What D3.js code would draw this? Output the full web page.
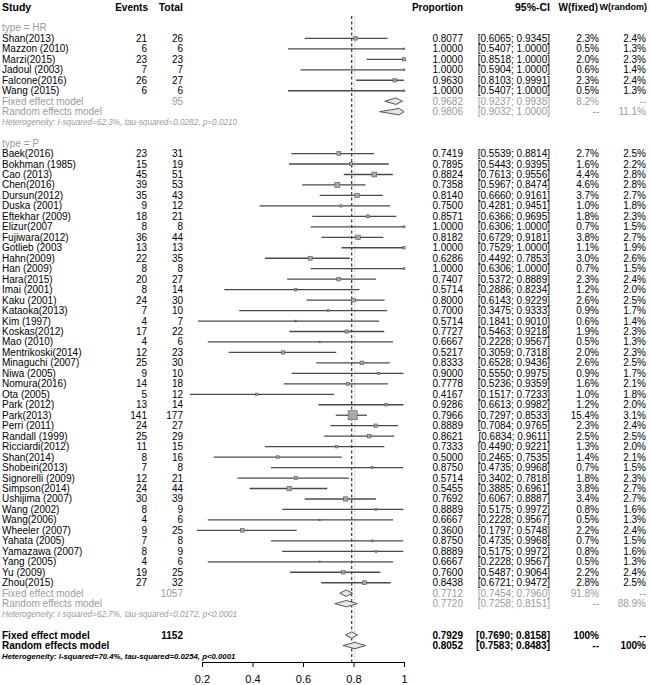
<!DOCTYPE html>
<html>
<head>
<meta charset="utf-8">
<script src="https://cdn.jsdelivr.net/npm/d3@7"></script>
<style>
  body { margin: 0; background: #fff; }
  svg text { font-family: "Liberation Sans", Arial, sans-serif; }
</style>
</head>
<body>
<svg id="forest" width="650" height="685"></svg>
<script>
// subgroup type = HR
var hrStudy = ["Shan(2013)", "Mazzon (2010)", "Marzi(2015)", "Jadoul (2003)", "Falcone(2016)", "Wang (2015)"];
var hrEvents = [21, 6, 23, 7, 26, 6];
var hrTotal = [26, 6, 23, 7, 27, 6];
var hrProp = [0.8077, 1.0000, 1.0000, 1.0000, 0.9630, 1.0000];
var hrLower = [0.6065, 0.5407, 0.8518, 0.5904, 0.8103, 0.5407];
var hrUpper = [0.9345, 1.0000, 1.0000, 1.0000, 0.9991, 1.0000];
var hrWFixed = [2.3, 0.5, 2.0, 0.6, 2.3, 0.5];
var hrWRandom = [2.4, 1.3, 2.3, 1.4, 2.4, 1.3];

// subgroup type = P
var pStudy = ["Baek(2016)", "Bokhman (1985)", "Cao (2013)", "Chen(2016)", "Dursun(2012)", "Duska (2001)",
  "Eftekhar (2009)", "Elizur(2007", "Fujiwara(2012)", "Gotlieb (2003", "Hahn(2009)", "Han (2009)",
  "Hara(2015)", "Imai (2001)", "Kaku (2001)", "Kataoka(2013)", "Kim (1997)", "Koskas(2012)", "Mao (2010)",
  "Mentrikoski(2014)", "Minaguchi (2007)", "Niwa (2005)", "Nomura(2016)", "Ota (2005)", "Park (2012)",
  "Park(2013)", "Perri (2011)", "Randall (1999)", "Ricciardi(2012)", "Shan(2014)", "Shobeiri(2013)",
  "Signorelli (2009)", "Simpson(2014)", "Ushijima (2007)", "Wang (2002)", "Wang(2006)", "Wheeler (2007)",
  "Yahata (2005)", "Yamazawa (2007)", "Yang (2005)", "Yu (2009)", "Zhou(2015)"];
var pEvents = [23, 15, 45, 39, 35, 9, 18, 8, 36, 13, 22, 8, 20, 8, 24, 7, 4, 17, 4, 12, 25, 9, 14, 5, 13,
  141, 24, 25, 11, 8, 7, 12, 24, 30, 8, 4, 9, 7, 8, 4, 19, 27];
var pTotal = [31, 19, 51, 53, 43, 12, 21, 8, 44, 13, 35, 8, 27, 14, 30, 10, 7, 22, 6, 23, 30, 10, 18, 12, 14,
  177, 27, 29, 15, 16, 8, 21, 44, 39, 9, 6, 25, 8, 9, 6, 25, 32];
var pProp = [0.7419, 0.7895, 0.8824, 0.7358, 0.8140, 0.7500, 0.8571, 1.0000, 0.8182, 1.0000, 0.6286, 1.0000,
  0.7407, 0.5714, 0.8000, 0.7000, 0.5714, 0.7727, 0.6667, 0.5217, 0.8333, 0.9000, 0.7778, 0.4167, 0.9286,
  0.7966, 0.8889, 0.8621, 0.7333, 0.5000, 0.8750, 0.5714, 0.5455, 0.7692, 0.8889, 0.6667, 0.3600,
  0.8750, 0.8889, 0.6667, 0.7600, 0.8438];
var pLower = [0.5539, 0.5443, 0.7613, 0.5967, 0.6660, 0.4281, 0.6366, 0.6306, 0.6729, 0.7529, 0.4492, 0.6306,
  0.5372, 0.2886, 0.6143, 0.3475, 0.1841, 0.5463, 0.2228, 0.3059, 0.6528, 0.5550, 0.5236, 0.1517, 0.6613,
  0.7297, 0.7084, 0.6834, 0.4490, 0.2465, 0.4735, 0.3402, 0.3885, 0.6067, 0.5175, 0.2228, 0.1797,
  0.4735, 0.5175, 0.2228, 0.5487, 0.6721];
var pUpper = [0.8814, 0.9395, 0.9556, 0.8474, 0.9161, 0.9451, 0.9695, 1.0000, 0.9181, 1.0000, 0.7853, 1.0000,
  0.8889, 0.8234, 0.9229, 0.9333, 0.9010, 0.9218, 0.9567, 0.7318, 0.9436, 0.9975, 0.9359, 0.7233, 0.9982,
  0.8533, 0.9765, 0.9611, 0.9221, 0.7535, 0.9968, 0.7818, 0.6961, 0.8887, 0.9972, 0.9567, 0.5748,
  0.9968, 0.9972, 0.9567, 0.9064, 0.9472];
var pWFixed = [2.7, 1.6, 4.4, 4.6, 3.7, 1.0, 1.8, 0.7, 3.8, 1.1, 3.0, 0.7, 2.3, 1.2, 2.6, 0.9, 0.6, 1.9, 0.5,
  2.0, 2.6, 0.9, 1.6, 1.0, 1.2, 15.4, 2.3, 2.5, 1.3, 1.4, 0.7, 1.8, 3.8, 3.4, 0.8, 0.5, 2.2, 0.7, 0.8, 0.5, 2.2, 2.8];
var pWRandom = [2.5, 2.2, 2.8, 2.8, 2.7, 1.8, 2.3, 1.5, 2.7, 1.9, 2.6, 1.5, 2.4, 2.0, 2.5, 1.7, 1.4, 2.3, 1.3,
  2.3, 2.5, 1.7, 2.1, 1.8, 2.0, 3.1, 2.4, 2.5, 2.0, 2.1, 1.5, 2.3, 2.7, 2.7, 1.6, 1.3, 2.4, 1.5, 1.6, 1.3, 2.4, 2.5];

// pooled estimates: HR fixed, HR random, P fixed, P random, overall fixed, overall random
var poolLabel = ["Fixed effect model", "Random effects model", "Fixed effect model", "Random effects model",
  "Fixed effect model", "Random effects model"];
var poolTotal = [95, null, 1057, null, 1152, null];
var poolProp = [0.9682, 0.9806, 0.7712, 0.7720, 0.7929, 0.8052];
var poolLower = [0.9237, 0.9032, 0.7454, 0.7258, 0.7690, 0.7583];
var poolUpper = [0.9938, 1.0000, 0.7960, 0.8151, 0.8158, 0.8483];
var poolWFixed = ["8.2%", "--", "91.8%", "--", "100%", "--"];
var poolWRandom = ["--", "11.1%", "--", "88.9%", "--", "100%"];

var hetText = [
  "Heterogeneity: I-squared=62.3%, tau-squared=0.0282, p=0.0210",
  "Heterogeneity: I-squared=62.7%, tau-squared=0.0172, p<0.0001",
  "Heterogeneity: I-squared=70.4%, tau-squared=0.0254, p<0.0001"];

var axisTicks = [0.2, 0.4, 0.6, 0.8, 1];

var svg = d3.select("#forest");
var grey = "#9a9a9a";
var fs = 10; // row font size

// row positions (63 text rows)
var yRow = d3.scaleLinear().domain([0, 62]).range([7, 656]);
var x = d3.scaleLinear().domain([0.2, 1]).range([202, 404]);
var axisY = 662;

var fmt4 = function(v){ return v.toFixed(4); };
var ciText = function(l, u){ return "[" + fmt4(l) + "; " + fmt4(u) + "]"; };

// build list of rows
var studies = [];
hrStudy.forEach(function(s, i){
  studies.push({row: 3 + i, name: s, ev: hrEvents[i], n: hrTotal[i], p: hrProp[i], lo: hrLower[i],
    hi: hrUpper[i], wf: hrWFixed[i], wr: hrWRandom[i]});
});
pStudy.forEach(function(s, i){
  studies.push({row: 14 + i, name: s, ev: pEvents[i], n: pTotal[i], p: pProp[i], lo: pLower[i],
    hi: pUpper[i], wf: pWFixed[i], wr: pWRandom[i]});
});

var poolRows = [9, 10, 56, 57, 60, 61];
var pools = poolLabel.map(function(l, i){
  return {row: poolRows[i], name: l, n: poolTotal[i], p: poolProp[i], lo: poolLower[i], hi: poolUpper[i],
    wf: poolWFixed[i], wr: poolWRandom[i], overall: i >= 4};
});

//Reference lines: fixed (dashed) and random (dotted)
svg.append("line")
  .attr("x1", x(poolProp[4])).attr("x2", x(poolProp[4]))
  .attr("y1", 16).attr("y2", axisY)
  .attr("stroke", "#333").attr("stroke-width", 1.2).attr("stroke-dasharray", "3,2.5");
svg.append("line")
  .attr("x1", x(poolProp[5])).attr("x2", x(poolProp[5]))
  .attr("y1", 16).attr("y2", axisY)
  .attr("stroke", "#999").attr("stroke-width", 0.8).attr("stroke-dasharray", "1,1.5");

//Header
var header = svg.append("g").attr("font-weight", "bold").attr("fill", "#000");
var heads = [
  {t: "Study", x: 2, a: "start", s: 10.5},
  {t: "Events", x: 148, a: "end", s: 10},
  {t: "Total", x: 183, a: "end", s: 10.5},
  {t: "Proportion", x: 463, a: "end", s: 10},
  {t: "95%-CI", x: 550, a: "end", s: 10.5},
  {t: "W(fixed)", x: 598, a: "end", s: 10},
  {t: "W(random)", x: 647, a: "end", s: 9}
];
header.selectAll("text").data(heads).enter().append("text")
  .attr("x", function(d){ return d.x; })
  .attr("y", yRow(0))
  .attr("dy", "0.35em")
  .attr("font-size", function(d){ return d.s; })
  .attr("text-anchor", function(d){ return d.a; })
  .text(function(d){ return d.t; });

//Subgroup titles
svg.selectAll("text.sub").data([{row: 2, t: "type = HR"}, {row: 13, t: "type = P"}]).enter()
  .append("text").attr("class", "sub")
  .attr("x", 2).attr("y", function(d){ return yRow(d.row); }).attr("dy", "0.35em")
  .attr("font-size", fs).attr("fill", grey)
  .text(function(d){ return d.t; });

//Study rows: text columns
var sg = svg.append("g").attr("font-size", fs).attr("fill", "#000");
var cols = [
  {x: 2, a: "start", f: function(d){ return d.name; }},
  {x: 147, a: "end", f: function(d){ return d.ev; }},
  {x: 183, a: "end", f: function(d){ return d.n; }},
  {x: 463, a: "end", f: function(d){ return fmt4(d.p); }},
  {x: 550, a: "end", f: function(d){ return ciText(d.lo, d.hi); }},
  {x: 599, a: "end", f: function(d){ return d.wf.toFixed(1) + "%"; }},
  {x: 646, a: "end", f: function(d){ return d.wr.toFixed(1) + "%"; }}
];
cols.forEach(function(c){
  sg.selectAll(null).data(studies).enter().append("text")
    .attr("x", c.x).attr("y", function(d){ return yRow(d.row); }).attr("dy", "0.35em")
    .attr("text-anchor", c.a)
    .text(c.f);
});

//Study CIs and squares
var plot = svg.append("g");
plot.selectAll("line.ci").data(studies).enter().append("line")
  .attr("class", "ci")
  .attr("x1", function(d){ return x(d.lo); })
  .attr("x2", function(d){ return x(d.hi); })
  .attr("y1", function(d){ return yRow(d.row); })
  .attr("y2", function(d){ return yRow(d.row); })
  .attr("stroke", "#4a4a4a").attr("stroke-width", 1.3);
plot.selectAll("rect.sq").data(studies).enter().append("rect")
  .attr("class", "sq")
  .attr("x", function(d){ return x(d.p) - 1.15 * Math.sqrt(d.wf); })
  .attr("y", function(d){ return yRow(d.row) - 1.15 * Math.sqrt(d.wf); })
  .attr("width", function(d){ return 2.3 * Math.sqrt(d.wf); })
  .attr("height", function(d){ return 2.3 * Math.sqrt(d.wf); })
  .attr("fill", "#a8a8a8").attr("stroke", "#555").attr("stroke-width", 0.6);

//Pooled rows
var pg = svg.append("g").attr("font-size", fs);
var pcols = [
  {x: 2, a: "start", f: function(d){ return d.name; }},
  {x: 183, a: "end", f: function(d){ return d.n == null ? "" : d.n; }},
  {x: 463, a: "end", f: function(d){ return fmt4(d.p); }},
  {x: 550, a: "end", f: function(d){ return ciText(d.lo, d.hi); }},
  {x: 599, a: "end", f: function(d){ return d.wf; }},
  {x: 646, a: "end", f: function(d){ return d.wr; }}
];
pcols.forEach(function(c){
  pg.selectAll(null).data(pools).enter().append("text")
    .attr("x", c.x).attr("y", function(d){ return yRow(d.row); }).attr("dy", "0.35em")
    .attr("text-anchor", c.a)
    .attr("fill", function(d){ return d.overall ? "#000" : grey; })
    .attr("font-weight", function(d){ return d.overall ? "bold" : "normal"; })
    .text(c.f);
});
plot.selectAll("path.dia").data(pools).enter().append("path")
  .attr("class", "dia")
  .attr("d", function(d){
    var y = yRow(d.row), h = 3.2;
    return "M" + x(d.lo) + "," + y + "L" + x(d.p) + "," + (y - h) + "L" + x(d.hi) + "," + y +
      "L" + x(d.p) + "," + (y + h) + "Z";
  })
  .attr("fill", "#e6e6e6").attr("stroke", "#555").attr("stroke-width", 1);

//Heterogeneity lines
svg.selectAll("text.het").data(hetText).enter().append("text")
  .attr("class", "het")
  .attr("x", 2).attr("y", function(d, i){ return yRow([11, 58, 62][i]); }).attr("dy", "0.35em")
  .attr("font-size", function(d, i){ return i == 2 ? 7.8 : 8.2; })
  .attr("font-style", "italic")
  .attr("font-weight", function(d, i){ return i == 2 ? "bold" : "normal"; })
  .attr("fill", function(d, i){ return i == 2 ? "#000" : grey; })
  .text(function(d){ return d; });

//Axis
var axis = d3.axisBottom(x)
  .tickValues(axisTicks)
  .tickSize(5).tickSizeOuter(0).tickPadding(8)
  .tickFormat(function(d){ return d == 1 ? "1" : d.toFixed(1); });
var ag = svg.append("g").attr("transform", "translate(0," + axisY + ")").call(axis);
ag.selectAll("text").attr("font-size", 11).attr("font-family", "Liberation Sans, Arial, sans-serif").attr("fill", "#000");
ag.selectAll("line, path").attr("stroke", "#000");
</script>
</body>
</html>
